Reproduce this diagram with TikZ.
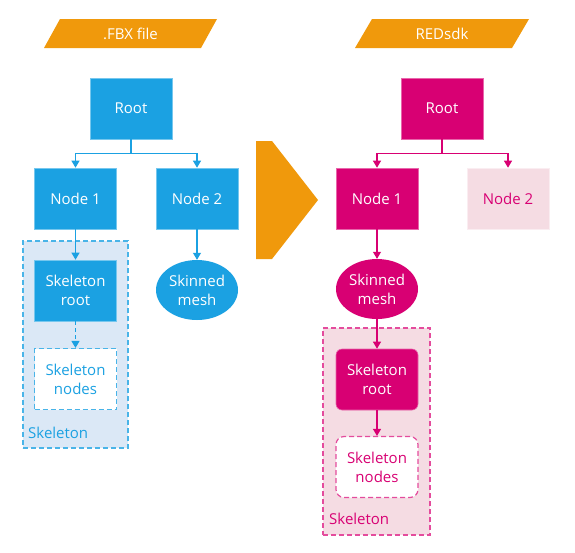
\documentclass[tikz,border=0pt]{standalone}
\usepackage{fontspec}
\setmainfont{Open Sans}
\usetikzlibrary{arrows.meta,shapes.geometric}
\definecolor{cblue}{HTML}{1BA1E2}
\definecolor{cmag}{HTML}{D80073}
\definecolor{corange}{HTML}{F0990C}
\definecolor{lblue}{HTML}{DBE8F6}
\definecolor{lpink}{HTML}{F5DCE3}
\begin{document}
\begin{tikzpicture}[x=1pt,y=-1pt,
  font=\fontsize{15}{19}\selectfont,
  >={Triangle[width=8pt,length=7pt]},
  box/.style={minimum width=82pt,minimum height=61pt,inner sep=0pt,align=center,line width=0.6pt},
  bbox/.style={box,fill=cblue,draw=cblue!60!white,text=white},
  mbox/.style={box,fill=cmag,draw=cmag!60!white,text=white},
  pbox/.style={box,fill=lpink,draw=lpink!50!white,text=cmag},
  bell/.style={ellipse,minimum width=82pt,minimum height=60pt,inner sep=0pt,align=center,fill=cblue,text=white},
  mell/.style={ellipse,minimum width=82pt,minimum height=60pt,inner sep=0pt,align=center,fill=cmag,text=white},
  dashbox/.style={box,fill=white,line width=1.2pt,dash pattern=on 5pt off 3pt},
  cont/.style={inner sep=0pt,line width=1.2pt,dash pattern=on 5pt off 3pt},
  barrow/.style={->,draw=cblue,line width=1.1pt},
  marrow/.style={->,draw=cmag,line width=1.1pt},
  banner/.style={fill=corange},
  bannertext/.style={text=white,inner sep=0pt}
]
\useasboundingbox (0,0) rectangle (575,552);
\fill[white] (0,0) rectangle (575,552);

% banners
\fill[banner] (60,19) -- (217,19) -- (201,48) -- (44,48) -- cycle;
\node[bannertext] (fbx) at (130.5,33.5) {.FBX file};
\fill[banner] (372,19) -- (529,19) -- (512,48) -- (355,48) -- cycle;
\node[bannertext] (red) at (442,33.5) {REDsdk};

% big chevron
\fill[corange] (256,141) -- (272,141) -- (318,200) -- (272,259) -- (256,259) -- cycle;

% left containers
\node[cont,draw=cblue!80!white,fill=lblue,minimum width=105pt,minimum height=207pt] (lcont) at (75.5,344.5) {};
\node[anchor=west,text=cblue,inner sep=0pt] (llab) at (28,433) {Skeleton};

% left tree
\node[bbox] (lroot) at (131,108.5) {Root};
\node[bbox] (ln1) at (75.5,198.5) {Node 1};
\node[bbox] (ln2) at (197,198.5) {Node 2};
\node[bbox] (lsr) at (75.5,290.5) {Skeleton\\root};
\node[dashbox,draw=cblue!80!white,text=cblue] (lsn) at (75.5,379) {Skeleton\\nodes};
\node[bell] (lsm) at (197,290) {Skinned\\mesh};

\draw[barrow] (lroot.south) -- ++(0,14) -| (ln1.north);
\draw[barrow] (lroot.south) -- ++(0,14) -| (ln2.north);
\draw[barrow] (ln1.south) -- (lsr.north);
\draw[barrow] (ln2.south) -- (lsm.north);
\draw[barrow,dash pattern=on 4pt off 3pt] (lsr.south) -- (lsn.north);

% right container
\node[cont,draw=cmag!70!white,fill=lpink,minimum width=107pt,minimum height=207pt] (rcont) at (376.5,431.5) {};
\node[anchor=west,text=cmag,inner sep=0pt] (rlab) at (329,519) {Skeleton};

% right tree
\node[mbox] (rroot) at (442,108.5) {Root};
\node[mbox] (rn1) at (377,198.5) {Node 1};
\node[pbox] (rn2) at (508,198.5) {Node 2};
\node[mell] (rsm) at (377,289) {Skinned\\mesh};
\node[mbox,rounded corners=6pt] (rsr) at (377,379.5) {Skeleton\\root};
\node[dashbox,rounded corners=8pt,draw=cmag!70!white,text=cmag] (rsn) at (377,467) {Skeleton\\nodes};

\draw[marrow] (rroot.south) -- ++(0,14) -| (rn1.north);
\draw[marrow] (rroot.south) -- ++(0,14) -| (rn2.north);
\draw[marrow] (rn1.south) -- (rsm.north);
\draw[marrow] (rsm.south) -- (rsr.north);
\draw[marrow] (rsr.south) -- (rsn.north);
\end{tikzpicture}
\end{document}
